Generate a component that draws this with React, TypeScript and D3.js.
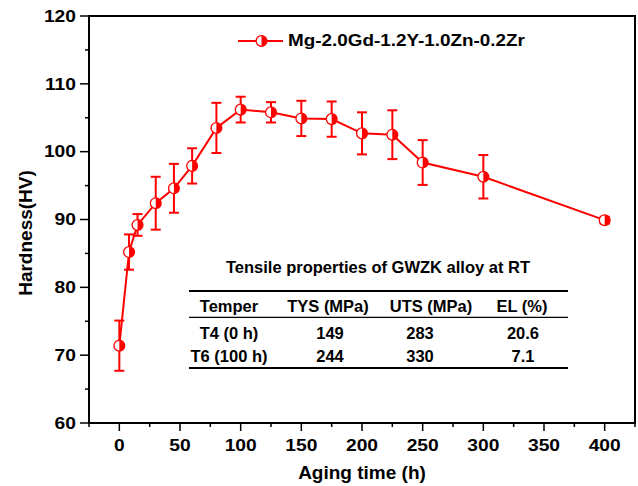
import React from 'react';
import * as d3 from 'd3';

// aging curve
const hours = [0, 8, 15, 30, 45, 60, 80, 100, 125, 150, 175, 200, 225, 250, 300, 400];
const hardness = [71.4, 85.2, 89.2, 92.4, 94.6, 97.9, 103.5, 106.2, 105.8, 104.9, 104.8, 102.7, 102.5, 98.4, 96.3, 89.9];
const errors = [3.7, 2.6, 1.6, 3.9, 3.6, 2.6, 3.7, 1.9, 1.5, 2.6, 2.6, 3.1, 3.6, 3.3, 3.2, 0.5];

const xTicks = [0, 50, 100, 150, 200, 250, 300, 350, 400];
const xMinor = [-25, 25, 75, 125, 175, 225, 275, 325, 375, 425];
const yTicks = [60, 70, 80, 90, 100, 110, 120];
const yMinor = [65, 75, 85, 95, 105, 115];

const seriesName = 'Mg-2.0Gd-1.2Y-1.0Zn-0.2Zr';

// inset table
const tableTitle = 'Tensile properties of GWZK alloy at RT';
const tableHeaders = ['Temper', 'TYS (MPa)', 'UTS (MPa)', 'EL (%)'];
const tableRows = [
  ['T4 (0 h)', '149', '283', '20.6'],
  ['T6 (100 h)', '244', '330', '7.1'],
];

const W = 638, H = 486;
const left = 89, right = 635, top = 16, bottom = 423;
const RED = '#ff0000';
const FONT = '"Liberation Sans", Arial, sans-serif';

const Marker = ({ cx, cy, r = 5.4 }: { cx: number; cy: number; r?: number }) => (
  <g transform={`translate(${cx},${cy})`}>
    <circle r={r} fill="#fff" stroke={RED} strokeWidth={1.3} />
    <path d={`M0,${-r} A${r},${r} 0 0 1 0,${r} Z`} fill={RED} />
  </g>
);

const App = () => {
  const x = d3.scaleLinear().domain([-25, 425]).range([left, right]);
  const y = d3.scaleLinear().domain([60, 120]).range([bottom, top]);

  const pts = hours.map((h, i) => ({ h, v: hardness[i], e: errors[i] }));
  const line = d3.line<{ h: number; v: number }>().x(d => x(d.h)).y(d => y(d.v));

  const headerX = [229, 328, 431, 522];
  const cellX = [229, 330, 420, 523];

  return (
    <svg width={W} height={H} style={{ position: 'absolute', left: 0, top: 0, background: '#fff' }}
      fontFamily={FONT} fontWeight="bold">
      <rect x={0} y={0} width={W} height={H} fill="#fff" />

      {/* minor / major ticks */}
      {xMinor.map(t => (
        <line key={'xm' + t} x1={x(t)} x2={x(t)} y1={bottom} y2={bottom + 4} stroke="#000" strokeWidth={1.5} />
      ))}
      {xTicks.map(t => (
        <g key={'x' + t}>
          <line x1={x(t)} x2={x(t)} y1={bottom} y2={bottom + 8} stroke="#000" strokeWidth={1.5} />
          <text transform={`translate(${x(t)},${451}) scale(1.18,1)`} textAnchor="middle" fontSize={16.3}>{t}</text>
        </g>
      ))}
      {yMinor.map(t => (
        <line key={'ym' + t} x1={left - 4} x2={left} y1={y(t)} y2={y(t)} stroke="#000" strokeWidth={1.5} />
      ))}
      {yTicks.map(t => (
        <g key={'y' + t}>
          <line x1={left - 9} x2={left} y1={y(t)} y2={y(t)} stroke="#000" strokeWidth={1.5} />
          <text transform={`translate(${76},${y(t) + 5.8}) scale(1.18,1)`} textAnchor="end" fontSize={16.3}>{t}</text>
        </g>
      ))}

      <rect x={left} y={top} width={right - left} height={bottom - top} fill="none" stroke="#000" strokeWidth={2} />

      {/* axis titles */}
      <text x={362} y={479} textAnchor="middle" fontSize={19}>Aging time (h)</text>
      <text transform={`translate(${32},${233}) rotate(-90)`} textAnchor="middle" fontSize={19}>Hardness(HV)</text>

      {/* series */}
      <path d={line(pts) || ''} fill="none" stroke={RED} strokeWidth={2} />
      {pts.map(p => (
        <g key={'e' + p.h} stroke={RED} strokeWidth={2}>
          <line x1={x(p.h)} x2={x(p.h)} y1={y(p.v - p.e)} y2={y(p.v + p.e)} />
          <line x1={x(p.h) - 5} x2={x(p.h) + 5} y1={y(p.v - p.e)} y2={y(p.v - p.e)} />
          <line x1={x(p.h) - 5} x2={x(p.h) + 5} y1={y(p.v + p.e)} y2={y(p.v + p.e)} />
        </g>
      ))}
      {pts.map(p => <Marker key={'m' + p.h} cx={x(p.h)} cy={y(p.v)} />)}

      {/* legend */}
      <line x1={238} x2={283} y1={41} y2={41} stroke={RED} strokeWidth={2} />
      <Marker cx={261.5} cy={41} />
      <text transform={`translate(${288},${46.3}) scale(1.18,1)`} fontSize={16}>{seriesName}</text>

      {/* inset table */}
      <text x={378} y={272.7} textAnchor="middle" fontSize={16.5}>{tableTitle}</text>
      <line x1={189} x2={568} y1={291} y2={291} stroke="#000" strokeWidth={2} />
      <line x1={189} x2={568} y1={317.3} y2={317.3} stroke="#000" strokeWidth={1.3} />
      <line x1={189} x2={568} y1={368} y2={368} stroke="#000" strokeWidth={2} />
      {tableHeaders.map((h, i) => (
        <text key={'th' + i} x={headerX[i]} y={311.5} textAnchor="middle" fontSize={16.5}>{h}</text>
      ))}
      {tableRows.map((row, r) =>
        row.map((c, i) => (
          <text key={`td${r}-${i}`} x={cellX[i]} y={r === 0 ? 338.7 : 361.7} textAnchor="middle" fontSize={16.5}>{c}</text>
        ))
      )}
    </svg>
  );
};

export default App;
